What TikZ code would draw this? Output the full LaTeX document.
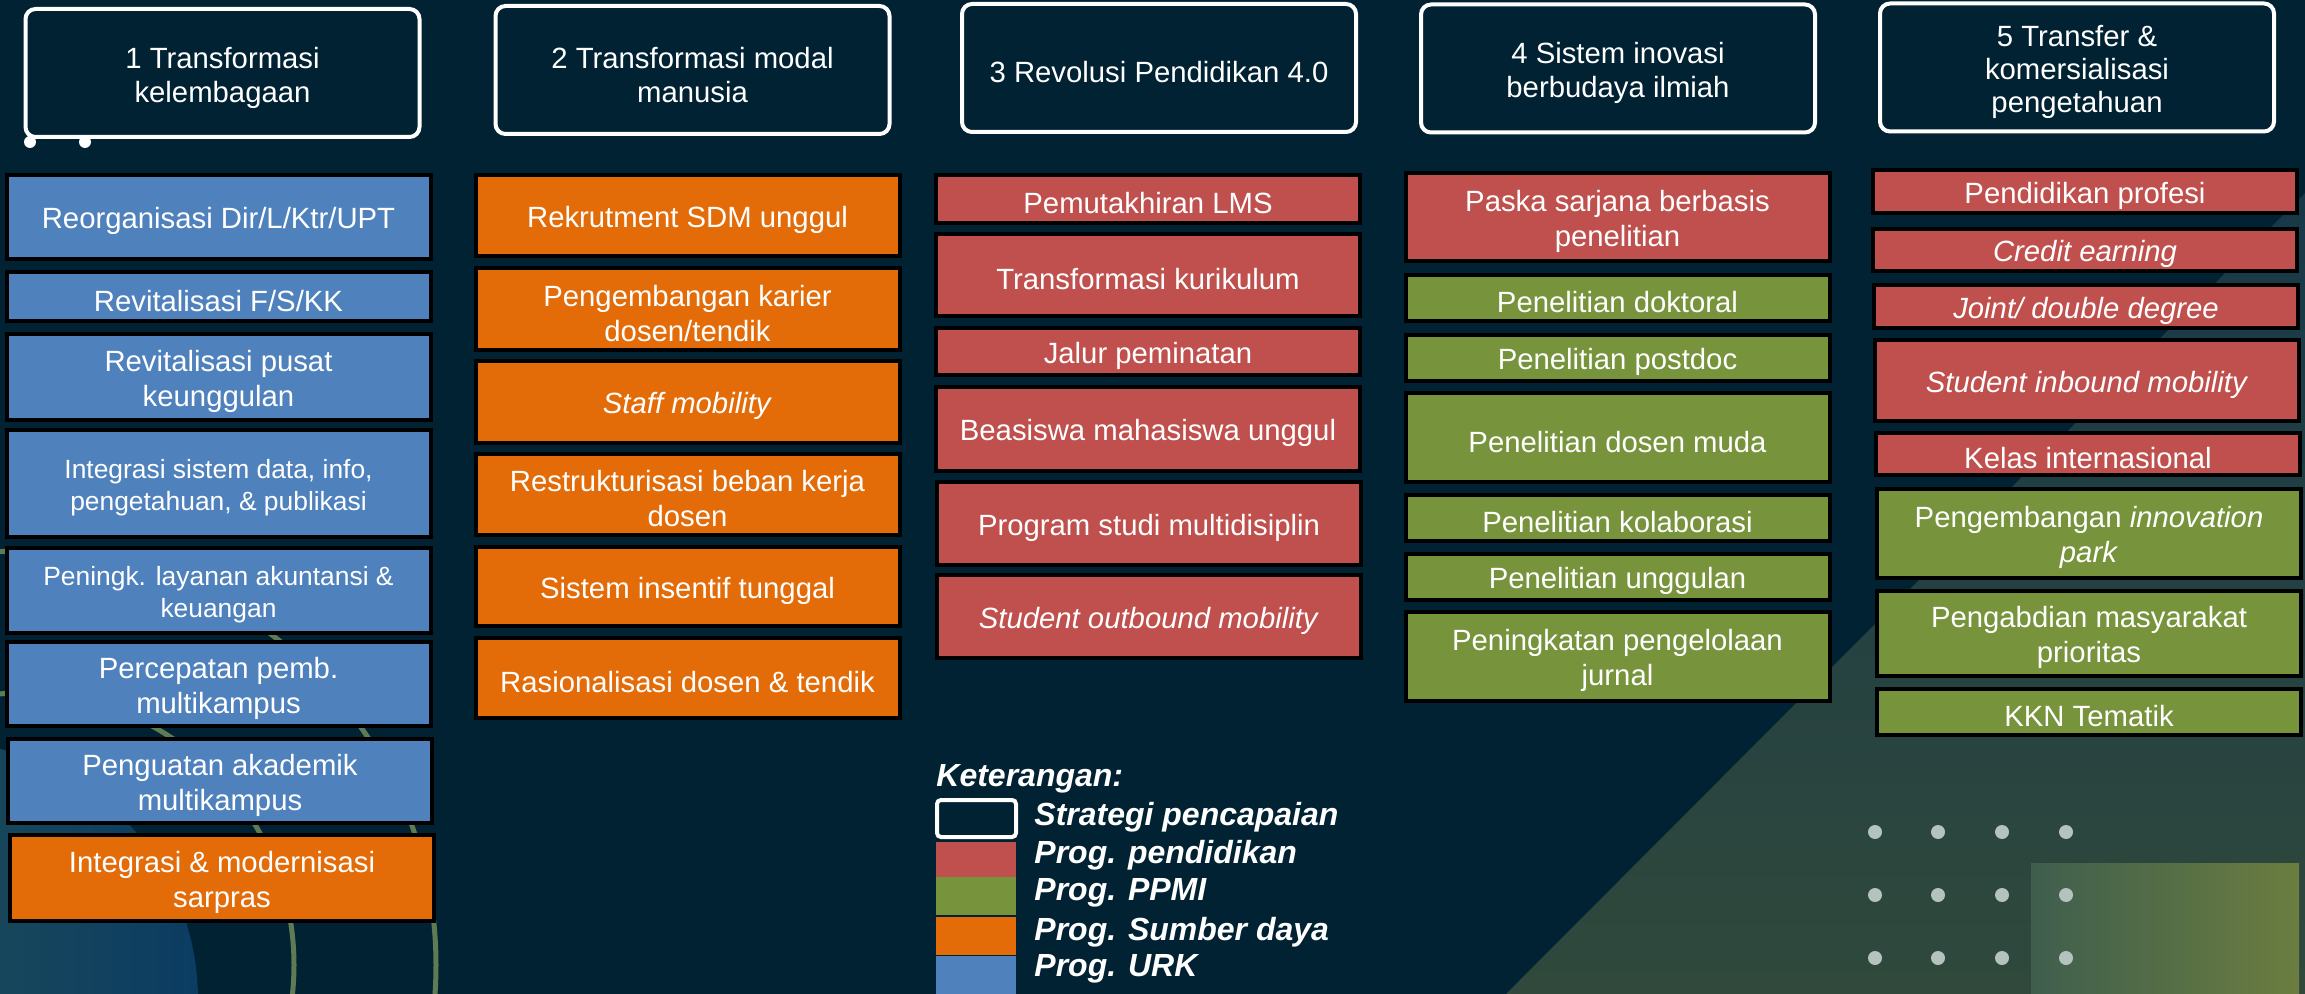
\documentclass[tikz,border=0pt]{standalone}
\usepackage{fontspec}
\setmainfont{Liberation Sans}

\definecolor{bgnavy}{HTML}{012233}
\definecolor{pendred}{HTML}{C0504D}
\definecolor{ppmigreen}{HTML}{77933C}
\definecolor{sdorange}{HTML}{E36C09}
\definecolor{urkblue}{HTML}{4F81BD}
\definecolor{arcgreen}{HTML}{5E7B55}
\definecolor{dotgrey}{HTML}{B4C2C0}
\definecolor{diagtop}{HTML}{173848}
\definecolor{diagbottom}{HTML}{30493C}
\definecolor{sqleft}{HTML}{3F5E4E}
\definecolor{sqright}{HTML}{6B7D3F}
\definecolor{glowleft}{HTML}{2A5750}
\definecolor{glowright}{HTML}{0B3C62}

\tikzset{
  prog/.style={draw=black, line width=2pt, text=white, align=center, inner sep=1pt,
    minimum width=212pt, font=\fontsize{14.65}{17.5}\selectfont,
    execute at begin node={\rule{0pt}{14.7pt}}},
  pend/.style={prog, fill=pendred},
  ppmi/.style={prog, fill=ppmigreen},
  sdaya/.style={prog, fill=sdorange},
  urk/.style={prog, fill=urkblue},
  dua/.style={execute at begin node={\rule{0pt}{32.5pt}}},
  tiga/.style={execute at begin node={\rule{0pt}{47.7pt}}},
  kecil/.style={font=\fontsize{13.2}{15.8}\selectfont, execute at begin node={\rule{0pt}{29.8pt}}},
  strategi/.style={draw=white, line width=2pt, rounded corners=5pt, fill=bgnavy, text=white,
    align=center, minimum width=197pt, minimum height=64pt, font=\fontsize{14.65}{17}\selectfont,
    execute at begin node={\rule{0pt}{14.7pt}}},
  ket/.style={text=white, anchor=west, inner sep=0pt, font=\fontsize{16}{19}\selectfont\bfseries\itshape},
}

\begin{document}
\begin{tikzpicture}[x=0.5pt, y=-0.5pt]
\useasboundingbox (0,0) rectangle (2305,994);

\fill[bgnavy] (0,0) rectangle (2305,994);
\shade[top color=diagtop, bottom color=diagbottom] (1506,994) -- (2305,193) -- (2305,994) -- cycle;
\shade[left color=glowleft, right color=glowright] (-60,1000) circle[radius=129pt];
\draw[arcgreen, line width=2.5pt] (22,965) circle[radius=136pt];
\draw[arcgreen, line width=2.5pt] (22,965) circle[radius=207pt];
\shade[left color=sqleft, right color=sqright] (2031,863) rectangle (2299,994);
\foreach \dx in {1875,1938,2002,2066}
  \foreach \dy in {832,895,958}
    \fill[dotgrey] (\dx,\dy) circle[radius=3.5pt];

\node[strategi, dua] (strategi1) at (222.5,73) {1 Transformasi\\kelembagaan};
\node[strategi, dua] (strategi2) at (692.5,70) {2 Transformasi modal\\manusia};
\node[strategi] (strategi3) at (1159,68) {3 Revolusi Pendidikan 4.0};
\node[strategi, dua] (strategi4) at (1618,68.5) {4 Sistem inovasi\\berbudaya ilmiah};
\node[strategi, tiga, font=\fontsize{14.65}{16.3}\selectfont] (strategi5) at (2077,67.5) {5 Transfer \&\\komersialisasi\\pengetahuan};
\fill[white] (30,142) circle[radius=3pt];
\fill[white] (85,142) circle[radius=3pt];

\node[urk, minimum height=42pt] (lembaga1) at (218.5,217) {Reorganisasi Dir/L/Ktr/UPT};
\node[urk, minimum height=24.5pt] (lembaga2) at (218.5,296.5) {Revitalisasi F/S/KK};
\node[urk, dua, minimum height=43pt] (lembaga3) at (218.5,377) {Revitalisasi pusat\\keunggulan};
\node[urk, kecil, minimum height=53.5pt] (lembaga4) at (218.5,483.5) {Integrasi sistem data, info,\\pengetahuan, \& publikasi};
\node[urk, kecil, minimum height=42.5pt] (lembaga5) at (218.5,590.5) {Peningk. layanan akuntansi \&\\keuangan};
\node[urk, dua, minimum height=42pt] (lembaga6) at (218.5,684) {Percepatan pemb.\\multikampus};
\node[urk, dua, minimum height=42pt] (lembaga7) at (220,781) {Penguatan akademik\\multikampus};
\node[sdaya, dua, minimum height=43pt] (lembaga8) at (222,878) {Integrasi \& modernisasi\\sarpras};

\node[sdaya, minimum height=40.5pt] (manusia1) at (687.5,215.5) {Rekrutment SDM unggul};
\node[sdaya, dua, minimum height=41pt] (manusia2) at (687.5,309) {Pengembangan karier\\dosen/tendik};
\node[sdaya, minimum height=41pt] (manusia3) at (687.5,402) {\textit{Staff mobility}};
\node[sdaya, dua, minimum height=40.5pt] (manusia4) at (687.5,494.5) {Restrukturisasi beban kerja\\dosen};
\node[sdaya, minimum height=39.5pt] (manusia5) at (687.5,586.5) {Sistem insentif tunggal};
\node[sdaya, minimum height=40pt] (manusia6) at (687.5,678) {Rasionalisasi dosen \& tendik};

\node[pend, minimum height=24pt] (didik1) at (1148,199) {Pemutakhiran LMS};
\node[pend, minimum height=41pt] (didik2) at (1148,275) {Transformasi kurikulum};
\node[pend, minimum height=23.5pt] (didik3) at (1148,351.5) {Jalur peminatan};
\node[pend, minimum height=42pt] (didik4) at (1148,429) {Beasiswa mahasiswa unggul};
\node[pend, minimum height=41.5pt] (didik5) at (1149,523.5) {Program studi multidisiplin};
\node[pend, minimum height=41.5pt] (didik6) at (1149,616.5) {\textit{Student outbound mobility}};

\node[pend, dua, minimum height=44pt] (inovasi1) at (1617.5,217) {Paska sarjana berbasis\\penelitian};
\node[ppmi, minimum height=23pt] (inovasi2) at (1617.5,298) {Penelitian doktoral};
\node[ppmi, minimum height=23pt] (inovasi3) at (1617.5,358) {Penelitian postdoc};
\node[ppmi, minimum height=44.5pt] (inovasi4) at (1617.5,437.5) {Penelitian dosen muda};
\node[ppmi, minimum height=23pt] (inovasi5) at (1617.5,518) {Penelitian kolaborasi};
\node[ppmi, minimum height=23pt] (inovasi6) at (1617.5,577) {Penelitian unggulan};
\node[ppmi, dua, minimum height=44.5pt] (inovasi7) at (1617.5,656.5) {Peningkatan pengelolaan\\jurnal};

\node[pend, minimum height=21.5pt] (transfer1) at (2085,191.5) {Pendidikan profesi};
\node[pend, minimum height=21pt] (transfer2) at (2085,250) {\textit{Credit earning}};
\node[pend, minimum height=21.5pt] (transfer3) at (2086,306.5) {\textit{Joint/ double degree}};
\node[pend, minimum height=40.5pt] (transfer4) at (2087,380.5) {\textit{Student inbound mobility}};
\node[pend, minimum height=21pt] (transfer5) at (2088,454) {Kelas internasional};
\node[ppmi, dua, minimum height=44.5pt] (transfer6) at (2089,533.5) {Pengembangan \textit{innovation}\\\textit{park}};
\node[ppmi, dua, minimum height=42.5pt] (transfer7) at (2089,633.5) {Pengabdian masyarakat\\prioritas};
\node[ppmi, minimum height=23pt] (transfer8) at (2089,712) {KKN Tematik};

\node[ket] (keterangan) at (936,779) {Keterangan:};
\node[draw=white, line width=2pt, rounded corners=2pt, fill=bgnavy, minimum width=39.5pt, minimum height=18.5pt, inner sep=0pt] (kstrategi) at (976.5,818.5) {};
\node[fill=pendred, minimum width=40pt, minimum height=17.5pt, inner sep=0pt] (kpend) at (976,859.5) {};
\node[fill=ppmigreen, minimum width=40pt, minimum height=19pt, inner sep=0pt] (kppmi) at (976,896) {};
\node[fill=sdorange, minimum width=40pt, minimum height=19pt, inner sep=0pt] (ksdaya) at (976,936) {};
\node[fill=urkblue, minimum width=40pt, minimum height=19pt, inner sep=0pt] (kurk) at (976,975) {};
\node[ket] (tstrategi) at (1034,817) {Strategi pencapaian};
\node[ket] (tpend) at (1034,855) {Prog. pendidikan};
\node[ket] (tppmi) at (1034,893) {Prog. PPMI};
\node[ket] (tsdaya) at (1034,932) {Prog. Sumber daya};
\node[ket] (turk) at (1034,969) {Prog. URK};
\end{tikzpicture}
\end{document}
